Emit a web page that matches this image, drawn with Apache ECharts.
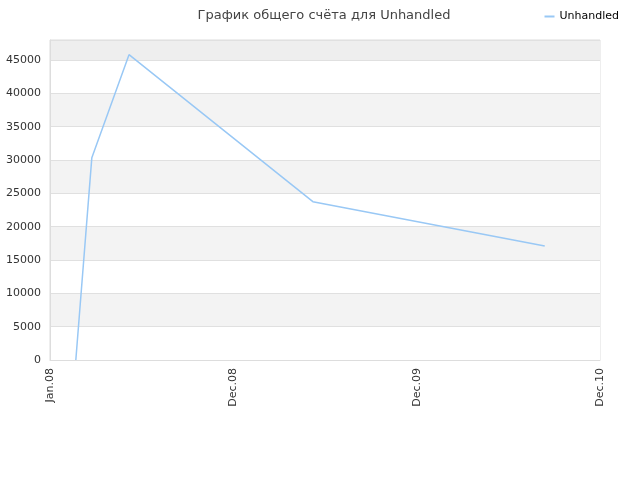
<!DOCTYPE html>
<html>
<head>
<meta charset="utf-8">
<script src="https://cdn.jsdelivr.net/npm/echarts@6/dist/echarts.min.js"></script>
<style>
  html, body { margin: 0; padding: 0; background: #fff; }
  #main { width: 640px; height: 480px; }
</style>
</head>
<body>
<div id="main"></div>
<script>
var title = "График общего счёта для Unhandled";
var seriesName = "Unhandled";

// dates of the points and their values
var dates = ["2008-02-20", "2008-03-22", "2008-06-02", "2009-05-24", "2010-08-16"];
var values = [0, 30350, 45800, 23750, 17100];

// x axis runs from axisStart to axisEnd, labelled at three equal steps
var axisStart = "2008-01-01";
var axisEnd = "2010-12-01";
var tickLabels = ["Jan.08", "Dec.08", "Dec.09", "Dec.10"];

var DAY = 86400000;
function dayOffset(d) {
  return Math.round((Date.parse(d) - Date.parse(axisStart)) / DAY);
}

var span = dayOffset(axisEnd);
var step = span / 3;
var points = dates.map(function (d, i) { return [dayOffset(d), values[i]]; });

var chart = echarts.init(document.getElementById("main"));

var bands = [];
for (var i = 0; i < 9; i++) bands.push(i % 2 === 0 ? "#ffffff" : "#f3f3f3");
bands.push("#eeeeee");

chart.setOption({
  animation: false,
  title: {
    text: title,
    left: 319,
    textAlign: "center",
    top: 4,
    textStyle: { fontFamily: "DejaVu Sans", fontSize: 13, fontWeight: "normal", color: "#444" }
  },
  legend: {
    right: 16,
    top: 6,
    icon: "rect",
    itemWidth: 10,
    itemHeight: 2,
    itemGap: 6,
    textStyle: { fontFamily: "DejaVu Sans", fontSize: 11, color: "#000" },
    data: [seriesName]
  },
  grid: {
    left: 50, right: 40, top: 40, bottom: 120, containLabel: false,
    show: true, borderColor: "#dddddd", borderWidth: 1
  },
  xAxis: {
    type: "value",
    min: 0,
    max: span,
    interval: step,
    axisLine: { show: true, lineStyle: { color: "#dddddd" } },
    axisTick: { show: false },
    splitLine: { show: false },
    axisLabel: {
      rotate: 90,
      fontFamily: "DejaVu Sans",
      fontSize: 11,
      color: "#333",
      margin: 8,
      formatter: function (v) {
        var idx = Math.round(v / step);
        return tickLabels[idx] || "";
      }
    }
  },
  yAxis: {
    type: "value",
    min: 0,
    max: 48000,
    interval: 5000,
    axisLine: { show: true, lineStyle: { color: "#dddddd" } },
    axisTick: { show: false },
    axisLabel: {
      fontFamily: "DejaVu Sans",
      fontSize: 11,
      color: "#333",
      margin: 9,
      showMaxLabel: false,
      formatter: function (v) { return String(v); }
    },
    splitLine: { show: true, lineStyle: { color: "#e0e0e0" } },
    splitArea: { show: true, areaStyle: { color: bands } }
  },
  series: [{
    name: seriesName,
    type: "line",
    data: points,
    symbol: "none",
    lineStyle: { color: "#99c8f5", width: 1.5 },
    itemStyle: { color: "#99c8f5" }
  }]
});
</script>
</body>
</html>
